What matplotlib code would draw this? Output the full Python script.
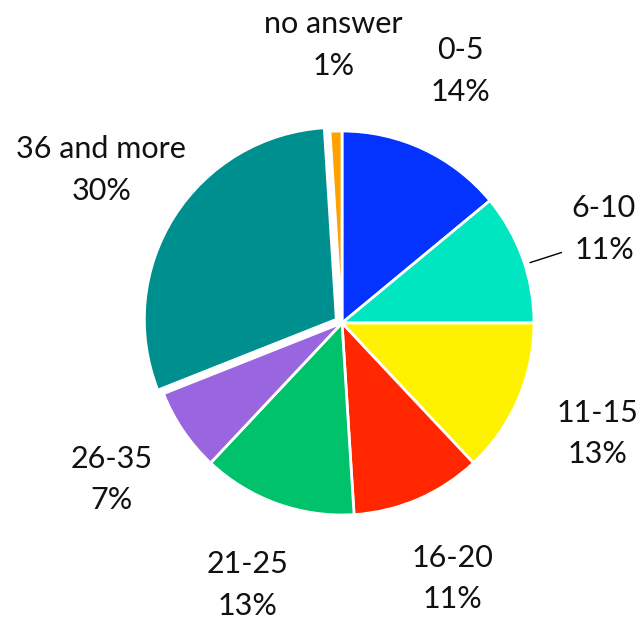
import numpy as np
import matplotlib.pyplot as plt

plt.rcParams['font.family'] = ['Lato', 'DejaVu Sans']

labels = ['0-5', '6-10', '11-15', '16-20', '21-25', '26-35', '36 and more', 'no answer']
shares = [14, 11, 13, 11, 13, 7, 30, 1]
colors = ['#0433FF', '#00E6C0', '#FFF200', '#FF2600', '#00C26B', '#9966E0', '#008F8F', '#FFA200']

fig = plt.figure(figsize=(6.38, 6.21), dpi=100)
ax = fig.add_axes([0, 0, 1, 1])

cx, cy, r = 342, 298, 192
# pull the largest slice out a little (explode is in data units here)
explode = [0.035 * r if s == max(shares) else 0 for s in shares]
texts = [f'{l}\n{s}%' for l, s in zip(labels, shares)]
wedges, txts = ax.pie(shares, labels=texts, colors=colors, explode=explode,
                      startangle=90, counterclock=False, center=(cx, cy), radius=r,
                      labeldistance=1.45, frame=True,
                      wedgeprops=dict(edgecolor='white', linewidth=2),
                      textprops=dict(fontsize=22, color='#111111', linespacing=1.6))
for t in txts:
    t.set_horizontalalignment('center')
    t.set_verticalalignment('center')

# short leader line for the 6-10 label
w = wedges[1]
ang = np.deg2rad((w.theta1 + w.theta2) / 2 - 2)
ax.plot([cx + 1.03 * r * np.cos(ang), cx + 1.2 * r * np.cos(ang)],
        [cy + 1.03 * r * np.sin(ang), cy + 1.2 * r * np.sin(ang)],
        color='black', linewidth=1)

ax.set_xlim(0, 638)
ax.set_ylim(0, 621)
ax.set_aspect('equal')
ax.axis('off')
fig.savefig('out.png', dpi=100)
